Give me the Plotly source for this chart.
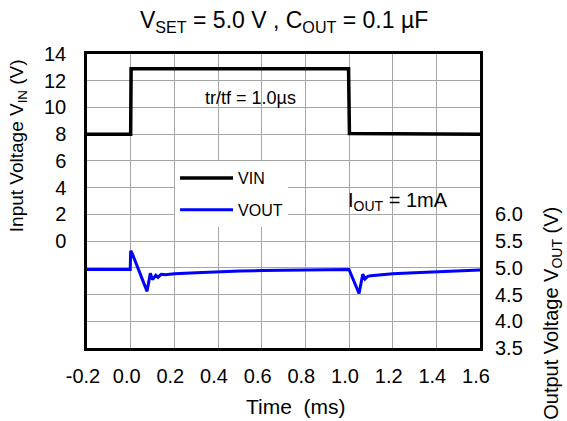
import plotly.graph_objects as go

# Time axis (ms)
x_ticks = [-0.2, 0.0, 0.2, 0.4, 0.6, 0.8, 1.0, 1.2, 1.4, 1.6]
x_tick_text = ["-0.2", "0.0", "0.2", "0.4", "0.6", "0.8", "1.0", "1.2", "1.4", "1.6"]

# Left axis: input voltage; gridlines continue below 0 without labels
vin_ticks = [-8, -6, -4, -2, 0, 2, 4, 6, 8, 10, 12, 14]
vin_tick_text = ["", "", "", "", "0", "2", "4", "6", "8", "10", "12", "14"]

# Right axis: output voltage
vout_ticks = [3.5, 4.0, 4.5, 5.0, 5.5, 6.0]
vout_tick_text = ["3.5", "4.0", "4.5", "5.0", "5.5", "6.0"]

# Input step 8 V -> 12.9 V -> 8 V
vin_t = [-0.2, 0.0, 0.002, 0.5, 0.998, 1.002, 1.3, 1.6]
vin_v = [8.0, 8.0, 12.9, 12.9, 12.9, 8.05, 8.0, 8.0]

# Output response
vout_t = [-0.2, -0.1, -0.002, 0.0, 0.006, 0.075, 0.09, 0.10, 0.115, 0.125,
          0.14, 0.16, 0.2, 0.3, 0.4, 0.5, 0.6, 0.8, 0.998,
          1.0, 1.046, 1.063, 1.073, 1.086, 1.1, 1.15, 1.2, 1.3, 1.4, 1.5, 1.6]
vout_v = [4.97, 4.97, 4.97, 5.32, 5.28, 4.56, 4.90, 4.78, 4.86, 4.82,
          4.88, 4.87, 4.89, 4.91, 4.93, 4.94, 4.95, 4.96, 4.97,
          4.97, 4.52, 4.88, 4.79, 4.84, 4.85, 4.87, 4.89, 4.91, 4.93, 4.95, 4.96]

FONT = "Liberation Sans, Arial, sans-serif"

fig = go.Figure()
fig.add_trace(go.Scatter(x=vin_t, y=vin_v, mode="lines", name="VIN",
                         line=dict(color="black", width=3.5), legendgroup="a"))
fig.add_trace(go.Scatter(x=vout_t, y=vout_v, mode="lines", name="VOUT", yaxis="y2",
                         line=dict(color="#0000ff", width=3), legendgroup="b"))

grid = "#a6a6a6"
fig.update_layout(
    width=567, height=421,
    margin=dict(l=87, r=87, t=54, b=73),
    paper_bgcolor="white", plot_bgcolor="white",
    font=dict(family=FONT, color="black", size=20),
    showlegend=True,
    legend=dict(x=0.224, y=0.636, xanchor="left", yanchor="top",
                bgcolor="white", borderwidth=0, font=dict(size=16),
                itemwidth=53, tracegroupgap=8),
    xaxis=dict(range=[-0.2, 1.6], tickvals=x_ticks, ticktext=x_tick_text,
               showgrid=True, gridcolor=grid, gridwidth=1.2, zeroline=False,
               showline=True, linecolor="black", linewidth=2.5, mirror=True,
               ticks="", ticklabelstandoff=8, ticklabelshift=-4),
    yaxis=dict(range=[-8, 14], tickvals=vin_ticks, ticktext=vin_tick_text,
               showgrid=True, gridcolor=grid, gridwidth=1.2, zeroline=False,
               showline=True, linecolor="black", linewidth=2.5, mirror=True,
               ticks="", ticklabelstandoff=14),
    yaxis2=dict(range=[3.5, 9.0], tickvals=vout_ticks, ticktext=vout_tick_text,
                overlaying="y", side="right", showgrid=False, zeroline=False,
                showline=False, ticks="", ticklabelstandoff=14),
    annotations=[
        dict(text="V<sub>SET</sub> = 5.0 V , C<sub>OUT</sub> = 0.1 µF",
             xref="paper", yref="paper", x=0.5, y=1.0, yshift=33,
             showarrow=False, font=dict(size=23), xanchor="center", yanchor="middle"),
        dict(text="Time  (ms)", xref="paper", yref="paper", x=0.533, y=0,
             yshift=-58, showarrow=False, font=dict(size=21), yanchor="middle"),
        dict(text="Input Voltage V<sub>IN</sub> (V)", xref="paper", yref="y",
             x=0, xshift=-69, y=7.1, textangle=-90, showarrow=False,
             font=dict(size=19), xanchor="center", yanchor="middle"),
        dict(text="Output Voltage V<sub>OUT</sub> (V)", xref="paper", yref="y2",
             x=1, xshift=73, y=4.14, textangle=-90, showarrow=False,
             font=dict(size=20), xanchor="center", yanchor="middle"),
        dict(text="tr/tf = 1.0µs", x=0.547, y=10.7, showarrow=False,
             font=dict(size=18)),
        dict(text="I<sub>OUT</sub> = 1mA", x=1.225, y=2.95, showarrow=False,
             font=dict(size=20)),
    ],
)

fig.write_html("out.html")
